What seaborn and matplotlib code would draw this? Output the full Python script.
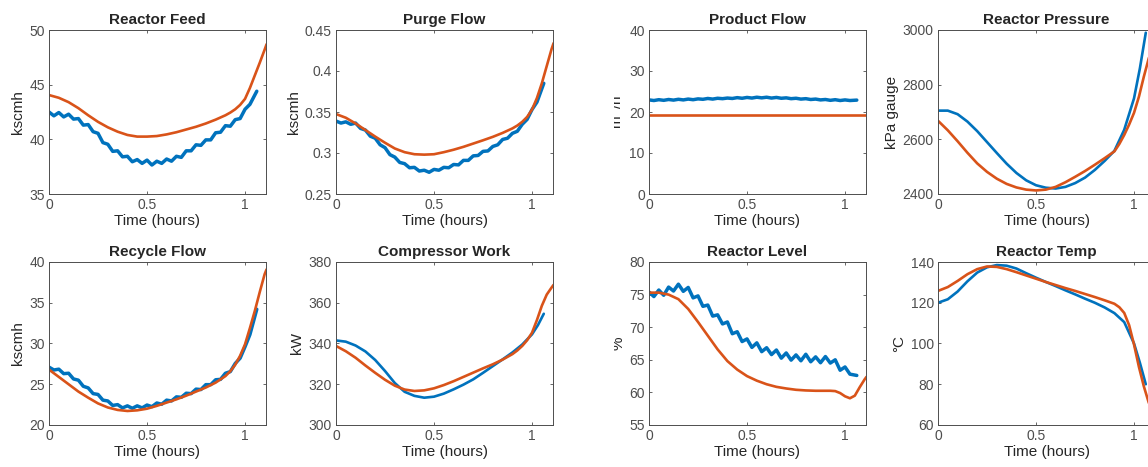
import matplotlib
matplotlib.use("Agg")
import matplotlib.pyplot as plt
import seaborn as sns
from matplotlib.transforms import Bbox, TransformedBbox

# Teil 1: Daten

# Zeitachsen in Stunden
zeit_mess_fein = [0, 0.025, 0.05, 0.075, 0.1, 0.125, 0.15, 0.175, 0.2, 0.225, 0.25, 0.275,
                  0.3, 0.325, 0.35, 0.375, 0.4, 0.425, 0.45, 0.475, 0.5, 0.525, 0.55, 0.575,
                  0.6, 0.625, 0.65, 0.675, 0.7, 0.725, 0.75, 0.775, 0.8, 0.825, 0.85, 0.875,
                  0.9, 0.925, 0.95, 0.975, 1.0, 1.025, 1.06]
zeit_mess_glatt = [0, 0.05, 0.1, 0.15, 0.2, 0.25, 0.3, 0.35, 0.4, 0.45, 0.5, 0.55, 0.6,
                   0.65, 0.7, 0.75, 0.8, 0.85, 0.9, 0.95, 1.0, 1.03, 1.06]
zeit_modell = [0, 0.05, 0.1, 0.15, 0.2, 0.25, 0.3, 0.35, 0.4, 0.45, 0.5, 0.55, 0.6,
               0.65, 0.7, 0.75, 0.8, 0.85, 0.9, 0.925, 0.95, 0.975, 1.0, 1.025, 1.05,
               1.075, 1.1, 1.11]

# Reactor Feed
feed_mess = [42.5, 42.15, 42.45, 42.05, 42.3, 41.85, 41.9, 41.3, 41.35, 40.7, 40.55, 39.7,
             39.55, 38.9, 38.95, 38.4, 38.45, 37.95, 38.15, 37.8, 38.1, 37.65, 38.0, 37.8,
             38.2, 38.0, 38.45, 38.35, 38.95, 38.95, 39.5, 39.45, 39.95, 39.95, 40.6, 40.65,
             41.25, 41.2, 41.8, 41.9, 42.75, 43.2, 44.4]
feed_modell = [44.05, 43.8, 43.4, 42.85, 42.2, 41.6, 41.1, 40.7, 40.4, 40.25, 40.25, 40.3,
               40.45, 40.65, 40.9, 41.15, 41.45, 41.8, 42.2, 42.45, 42.75, 43.15, 43.7,
               44.7, 45.85, 47.0, 48.2, 48.7]

# Purge Flow
purge_mess = [0.339, 0.3365, 0.338, 0.335, 0.3365, 0.330, 0.328, 0.3205, 0.318, 0.310, 0.3065,
              0.298, 0.295, 0.2885, 0.287, 0.282, 0.2825, 0.278, 0.279, 0.2765, 0.280, 0.279,
              0.2825, 0.282, 0.286, 0.2855, 0.291, 0.291, 0.2965, 0.297, 0.302, 0.3025, 0.308,
              0.310, 0.3165, 0.318, 0.324, 0.3265, 0.335, 0.341, 0.353, 0.362, 0.385]
purge_modell = [0.3475, 0.343, 0.336, 0.328, 0.320, 0.3125, 0.3055, 0.301, 0.2985, 0.298,
                0.2985, 0.301, 0.304, 0.3075, 0.3115, 0.3155, 0.3197, 0.3245, 0.330, 0.3335,
                0.338, 0.344, 0.353, 0.367, 0.385, 0.406, 0.427, 0.434]

# Product Flow
produkt_mess = [22.95, 22.8, 23.0, 22.85, 23.05, 22.9, 23.1, 22.95, 23.15, 23.0, 23.2, 23.1,
                23.3, 23.15, 23.35, 23.25, 23.4, 23.3, 23.5, 23.35, 23.55, 23.4, 23.6, 23.45,
                23.6, 23.4, 23.55, 23.35, 23.45, 23.25, 23.35, 23.15, 23.25, 23.05, 23.15, 22.95,
                23.05, 22.85, 23.0, 22.8, 22.95, 22.8, 22.9]
produkt_modell = [19.25, 19.25, 19.25, 19.25, 19.25, 19.25, 19.25, 19.25, 19.25, 19.25, 19.25,
                  19.25, 19.25, 19.25, 19.25, 19.25, 19.25, 19.25, 19.25, 19.25, 19.25, 19.25,
                  19.25, 19.25, 19.25, 19.25, 19.25, 19.25]

# Reactor Pressure
druck_mess = [2705, 2705, 2692, 2665, 2630, 2590, 2550, 2511, 2477, 2450, 2432, 2423, 2420,
              2426, 2440, 2460, 2488, 2521, 2558, 2635, 2750, 2860, 2990]
druck_modell = [2668, 2633, 2593, 2551, 2512, 2481, 2456, 2437, 2424, 2416, 2413, 2416, 2426,
                2443, 2463, 2484, 2507, 2531, 2556, 2583, 2616, 2654, 2697, 2756, 2829, 2896,
                2950, 2965]

# Recycle Flow
recycle_mess = [27.1, 26.75, 26.85, 26.3, 26.35, 25.65, 25.5, 24.75, 24.55, 23.85, 23.75, 23.05,
                22.95, 22.4, 22.5, 22.1, 22.35, 22.05, 22.35, 22.1, 22.45, 22.25, 22.7, 22.55,
                23.05, 22.95, 23.45, 23.4, 23.9, 23.85, 24.4, 24.35, 24.95, 24.95, 25.55, 25.6,
                26.35, 26.55, 27.55, 28.2, 29.6, 31.1, 34.2]
recycle_modell = [26.8, 25.9, 25.0, 24.1, 23.35, 22.65, 22.15, 21.85, 21.72, 21.8, 22.0, 22.35,
                  22.75, 23.15, 23.6, 24.1, 24.6, 25.2, 26.0, 26.6, 27.4, 28.5, 29.9, 31.9,
                  34.0, 36.3, 38.5, 39.1]

# Compressor Work
kompressor_mess = [341.5, 340.9, 339.0, 336.1, 331.9, 326.5, 320.6, 316.3, 314.3, 313.4, 313.9,
                   315.4, 317.5, 319.8, 322.4, 325.6, 328.9, 332.2, 335.6, 339.5, 344.5, 349.0,
                   354.6]
kompressor_modell = [338.8, 336.2, 333.0, 329.2, 325.6, 322.2, 319.3, 317.4, 316.7, 317.0, 318.0,
                     319.6, 321.5, 323.6, 325.7, 327.8, 329.8, 332.1, 334.8, 336.6, 338.8,
                     341.6, 345.3, 351.5, 358.5, 364.0, 367.5, 368.8]

# Reactor Level
niveau_mess = [75.4, 74.7, 75.7, 74.9, 76.15, 75.55, 76.6, 75.5, 76.1, 74.5, 74.8, 73.2, 73.4,
               71.7, 71.9, 70.5, 70.8, 69.0, 69.3, 67.8, 68.2, 66.9, 67.6, 66.25, 66.85, 65.8,
               66.5, 65.25, 66.05, 64.95, 65.75, 64.85, 65.85, 64.7, 65.45, 64.55, 65.5, 64.5,
               65.0, 63.4, 63.9, 62.8, 62.6]
niveau_modell = [75.3, 75.3, 75.0, 74.3, 72.8, 70.8, 68.7, 66.6, 64.8, 63.5, 62.5, 61.8, 61.25,
                 60.85, 60.6, 60.4, 60.3, 60.25, 60.25, 60.25, 60.2, 59.9, 59.4, 59.1, 59.5,
                 60.8, 62.0, 62.4]

# Reactor Temp
temp_mess = [120.0, 121.7, 125.5, 130.5, 134.8, 137.4, 138.5, 138.2, 136.8, 134.5, 132.3, 130.2,
             128.2, 126.1, 124.1, 122.0, 120.0, 117.7, 114.9, 110.5, 100.0, 90.5, 80.0]
temp_modell = [125.8, 127.7, 130.7, 134.0, 136.5, 137.8, 137.6, 136.5, 135.0, 133.4, 131.8, 130.2,
               128.7, 127.2, 125.8, 124.3, 122.8, 121.2, 119.5, 117.8, 115.0, 109.0, 99.5,
               88.5, 79.0, 71.0, 66.0, 64.5]

# Achsenbeschriftungen und Ticks
titel = ["Reactor Feed", "Purge Flow", "Product Flow", "Reactor Pressure",
         "Recycle Flow", "Compressor Work", "Reactor Level", "Reactor Temp"]
einheiten = ["kscmh", "kscmh", "m$^3$/h", "kPa gauge", "kscmh", "kW", "%", "°C"]
y_ticks = [[35, 40, 45, 50], [0.25, 0.3, 0.35, 0.4, 0.45], [0, 10, 20, 30, 40],
           [2400, 2600, 2800, 3000], [20, 25, 30, 35, 40], [300, 320, 340, 360, 380],
           [55, 60, 65, 70, 75, 80], [60, 80, 100, 120, 140]]
y_tick_texte = [["35", "40", "45", "50"], ["0.25", "0.3", "0.35", "0.4", "0.45"],
                ["0", "10", "20", "30", "40"], ["2400", "2600", "2800", "3000"],
                ["20", "25", "30", "35", "40"], ["300", "320", "340", "360", "380"],
                ["55", "60", "65", "70", "75", "80"], ["60", "80", "100", "120", "140"]]
x_ticks = [0, 0.5, 1]
x_tick_texte = ["0", "0.5", "1"]

messungen = [(zeit_mess_fein, feed_mess), (zeit_mess_fein, purge_mess), (zeit_mess_fein, produkt_mess),
             (zeit_mess_glatt, druck_mess), (zeit_mess_fein, recycle_mess),
             (zeit_mess_glatt, kompressor_mess), (zeit_mess_fein, niveau_mess),
             (zeit_mess_glatt, temp_mess)]
modelle = [feed_modell, purge_modell, produkt_modell, druck_modell,
           recycle_modell, kompressor_modell, niveau_modell, temp_modell]

# Teil 2: Plot im MATLAB-Stil
sns.set_theme(style="ticks")
plt.rcParams["font.family"] = ["Liberation Sans", "DejaVu Sans"]
plt.rcParams["axes.edgecolor"] = "#4d4d4d"
plt.rcParams["text.color"] = "#262626"
plt.rcParams["axes.labelcolor"] = "#262626"
plt.rcParams["xtick.color"] = "#4d4d4d"
plt.rcParams["ytick.color"] = "#4d4d4d"

blau = "#0072BD"
orange = "#D95319"

B, H = 1148, 467
fig = plt.figure(figsize=(B / 100, H / 100), dpi=100)
fig.patch.set_facecolor("white")

# Positionen der Achsen in Pixeln (links, oben, unten)
links_px = [49, 336, 649, 938]
zeilen_px = [(30, 194), (262, 425)]
breite_px = 217

for i in range(8):
    zeile, spalte = divmod(i, 4)
    oben, unten = zeilen_px[zeile]
    ax = fig.add_axes([links_px[spalte] / B, 1 - unten / H, breite_px / B, (unten - oben) / H])

    t_mess, y_mess = messungen[i]
    verrauscht = t_mess is zeit_mess_fein
    sns.lineplot(x=t_mess, y=y_mess, ax=ax, color=blau, linewidth=2.5 if verrauscht else 1.9,
                 estimator=None, sort=False)
    sns.lineplot(x=zeit_modell, y=modelle[i], ax=ax, color=orange, linewidth=1.9,
                 estimator=None, sort=False)

    ax.set_xlim(0, 1.107)
    ax.set_ylim(y_ticks[i][0], y_ticks[i][-1])
    ax.set_xticks(x_ticks, x_tick_texte)
    ax.set_yticks(y_ticks[i], y_tick_texte[i])
    ax.tick_params(direction="in", top=True, right=True, length=2.5, width=0.6,
                   labelsize=10, pad=3)
    for sp in ax.spines.values():
        sp.set_linewidth(0.7)

    ax.set_title(titel[i], fontsize=11, fontweight="bold", pad=4)
    ax.set_xlabel("Time (hours)", fontsize=11, labelpad=1)
    lab = ax.set_ylabel(einheiten[i], fontsize=11, labelpad=3)

    # Die dritte Spalte ist im Original links abgeschnitten
    if spalte == 2:
        lab.set_clip_on(True)
        lab.set_clip_box(TransformedBbox(Bbox.from_extents(614 / B, 0, 1, 1), fig.transFigure))

fig.savefig("out.png", dpi=100, facecolor="white")
